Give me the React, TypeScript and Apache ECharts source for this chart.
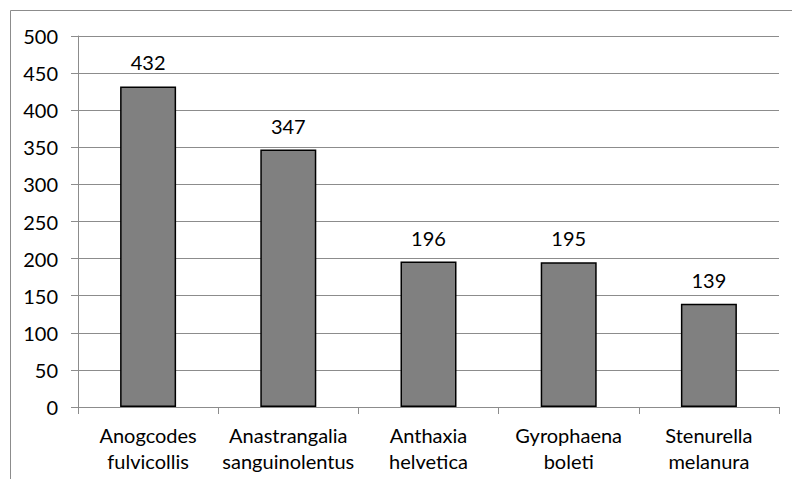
import React, { useEffect, useRef } from "react";
import * as echarts from "echarts";

const categories = [
  "Anogcodes\nfulvicollis",
  "Anastrangalia\nsanguinolentus",
  "Anthaxia\nhelvetica",
  "Gyrophaena\nboleti",
  "Stenurella\nmelanura",
];
const values = [432, 347, 196, 195, 139];

const FONT = "Lato";

export default function App() {
  const ref = useRef<HTMLDivElement>(null);
  useEffect(() => {
    const chart = echarts.init(ref.current!, null, { renderer: "svg" });
    chart.setOption({
      animation: false,
      backgroundColor: "#ffffff",
      graphic: [
        {
          type: "rect",
          shape: { x: 10.5, y: 10.5, width: 900, height: 600 },
          style: { fill: "none", stroke: "#8c8c8c", lineWidth: 1 },
          silent: true,
          z: -1,
        },
      ],
      grid: { left: 78, right: 13, top: 36, bottom: 72, containLabel: false },
      xAxis: {
        type: "category",
        data: categories,
        axisLine: { lineStyle: { color: "#8c8c8c", width: 1 } },
        axisTick: { show: true, length: 7, lineStyle: { color: "#8c8c8c" } },
        axisLabel: {
          color: "#000",
          fontFamily: FONT,
          fontSize: 20,
          lineHeight: 26,
          margin: 15,
          interval: 0,
        },
        splitLine: { show: false },
      },
      yAxis: {
        type: "value",
        min: 0,
        max: 500,
        interval: 50,
        axisLine: { show: true, lineStyle: { color: "#8c8c8c", width: 1 } },
        axisTick: { show: true, length: 7, lineStyle: { color: "#8c8c8c" } },
        axisLabel: {
          color: "#000",
          fontFamily: FONT,
          fontSize: 20,
          margin: 20,
        },
        splitLine: { show: true, lineStyle: { color: "#8c8c8c", width: 1 } },
      },
      series: [
        {
          type: "bar",
          data: values,
          barWidth: 56,
          itemStyle: { color: "#808080", borderColor: "#000", borderWidth: 1.5 },
          label: {
            show: true,
            position: "top",
            distance: 14,
            color: "#000",
            fontFamily: FONT,
            fontSize: 20,
          },
        },
      ],
    });
    return () => chart.dispose();
  }, []);
  return <div ref={ref} style={{ width: 792, height: 479, position: "absolute", left: 0, top: 0 }} />;
}
